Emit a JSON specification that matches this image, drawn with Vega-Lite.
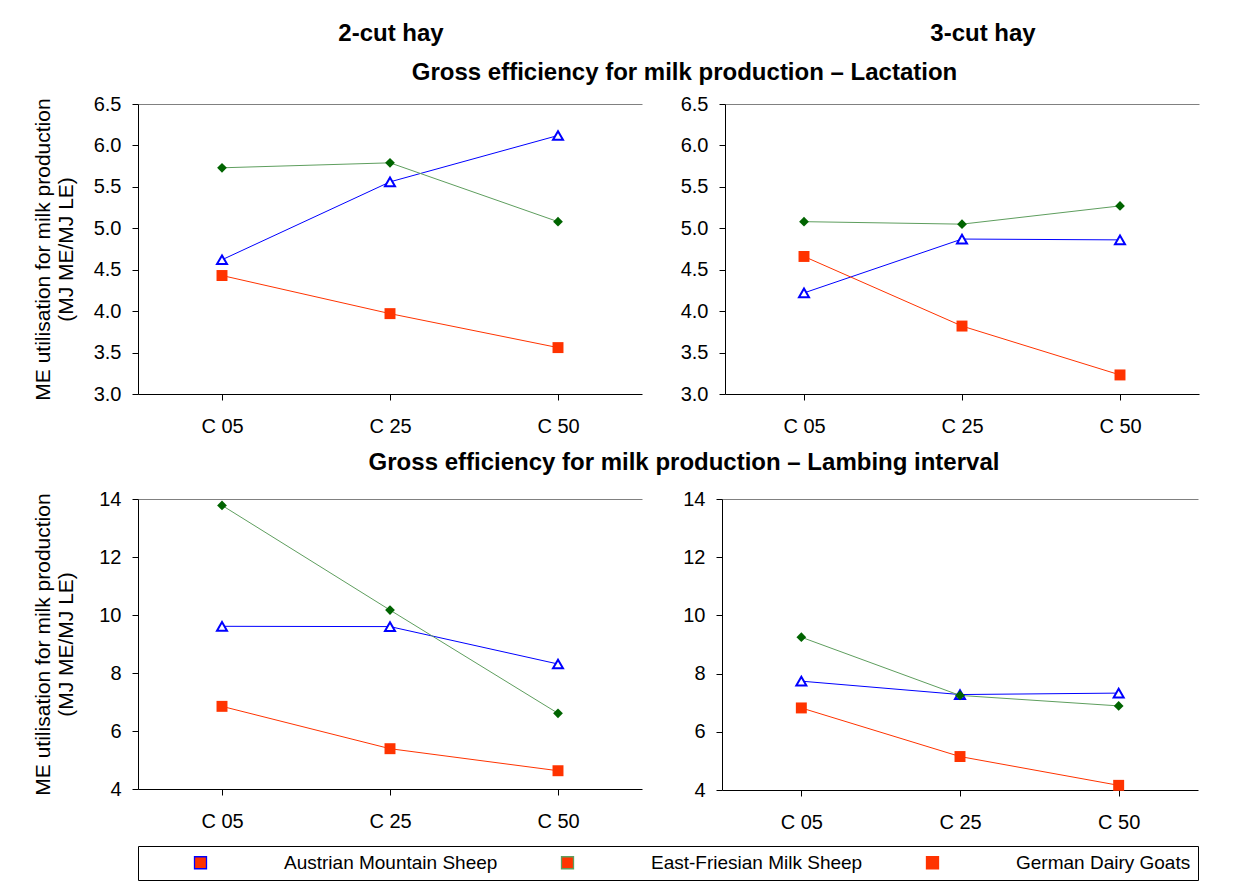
{
  "$schema": "https://vega.github.io/schema/vega-lite/v6.json",
  "padding": {"left": 31, "top": 22, "right": 6, "bottom": 4},
  "background": "white",
  "config": {
    "font": "Liberation Sans",
    "view": {"stroke": null},
    "axis": {"grid": false, "domainColor": "black", "tickColor": "black", "labelColor": "black", "labelFont": "Liberation Sans", "labelFontSize": 20, "tickSize": 6, "domainWidth": 1, "tickWidth": 1, "titleFont": "Liberation Sans", "titleFontWeight": "normal", "titleColor": "black"},
    "axisY": {"minExtent": 42, "maxExtent": 42},
    "title": {"font": "Liberation Sans", "fontSize": 24, "fontWeight": "bold", "color": "black"}
  },
  "datasets": {
    "d": [
      {"hay": "2-cut hay", "period": "Lactation", "series": "Austrian Mountain Sheep", "cut": "C 05", "value": 4.62},
      {"hay": "2-cut hay", "period": "Lactation", "series": "Austrian Mountain Sheep", "cut": "C 25", "value": 5.56},
      {"hay": "2-cut hay", "period": "Lactation", "series": "Austrian Mountain Sheep", "cut": "C 50", "value": 6.12},
      {"hay": "2-cut hay", "period": "Lactation", "series": "East-Friesian Milk Sheep", "cut": "C 05", "value": 5.73},
      {"hay": "2-cut hay", "period": "Lactation", "series": "East-Friesian Milk Sheep", "cut": "C 25", "value": 5.79},
      {"hay": "2-cut hay", "period": "Lactation", "series": "East-Friesian Milk Sheep", "cut": "C 50", "value": 5.08},
      {"hay": "2-cut hay", "period": "Lactation", "series": "German Dairy Goats", "cut": "C 05", "value": 4.43},
      {"hay": "2-cut hay", "period": "Lactation", "series": "German Dairy Goats", "cut": "C 25", "value": 3.97},
      {"hay": "2-cut hay", "period": "Lactation", "series": "German Dairy Goats", "cut": "C 50", "value": 3.56},
      {"hay": "3-cut hay", "period": "Lactation", "series": "Austrian Mountain Sheep", "cut": "C 05", "value": 4.22},
      {"hay": "3-cut hay", "period": "Lactation", "series": "Austrian Mountain Sheep", "cut": "C 25", "value": 4.87},
      {"hay": "3-cut hay", "period": "Lactation", "series": "Austrian Mountain Sheep", "cut": "C 50", "value": 4.86},
      {"hay": "3-cut hay", "period": "Lactation", "series": "East-Friesian Milk Sheep", "cut": "C 05", "value": 5.08},
      {"hay": "3-cut hay", "period": "Lactation", "series": "East-Friesian Milk Sheep", "cut": "C 25", "value": 5.05},
      {"hay": "3-cut hay", "period": "Lactation", "series": "East-Friesian Milk Sheep", "cut": "C 50", "value": 5.27},
      {"hay": "3-cut hay", "period": "Lactation", "series": "German Dairy Goats", "cut": "C 05", "value": 4.66},
      {"hay": "3-cut hay", "period": "Lactation", "series": "German Dairy Goats", "cut": "C 25", "value": 3.82},
      {"hay": "3-cut hay", "period": "Lactation", "series": "German Dairy Goats", "cut": "C 50", "value": 3.23},
      {"hay": "2-cut hay", "period": "Lambing interval", "series": "Austrian Mountain Sheep", "cut": "C 05", "value": 9.61},
      {"hay": "2-cut hay", "period": "Lambing interval", "series": "Austrian Mountain Sheep", "cut": "C 25", "value": 9.6},
      {"hay": "2-cut hay", "period": "Lambing interval", "series": "Austrian Mountain Sheep", "cut": "C 50", "value": 8.31},
      {"hay": "2-cut hay", "period": "Lambing interval", "series": "East-Friesian Milk Sheep", "cut": "C 05", "value": 13.78},
      {"hay": "2-cut hay", "period": "Lambing interval", "series": "East-Friesian Milk Sheep", "cut": "C 25", "value": 10.17},
      {"hay": "2-cut hay", "period": "Lambing interval", "series": "East-Friesian Milk Sheep", "cut": "C 50", "value": 6.61},
      {"hay": "2-cut hay", "period": "Lambing interval", "series": "German Dairy Goats", "cut": "C 05", "value": 6.85},
      {"hay": "2-cut hay", "period": "Lambing interval", "series": "German Dairy Goats", "cut": "C 25", "value": 5.39},
      {"hay": "2-cut hay", "period": "Lambing interval", "series": "German Dairy Goats", "cut": "C 50", "value": 4.63},
      {"hay": "3-cut hay", "period": "Lambing interval", "series": "Austrian Mountain Sheep", "cut": "C 05", "value": 7.74},
      {"hay": "3-cut hay", "period": "Lambing interval", "series": "Austrian Mountain Sheep", "cut": "C 25", "value": 7.28},
      {"hay": "3-cut hay", "period": "Lambing interval", "series": "Austrian Mountain Sheep", "cut": "C 50", "value": 7.33},
      {"hay": "3-cut hay", "period": "Lambing interval", "series": "East-Friesian Milk Sheep", "cut": "C 05", "value": 9.25},
      {"hay": "3-cut hay", "period": "Lambing interval", "series": "East-Friesian Milk Sheep", "cut": "C 25", "value": 7.25},
      {"hay": "3-cut hay", "period": "Lambing interval", "series": "East-Friesian Milk Sheep", "cut": "C 50", "value": 6.89},
      {"hay": "3-cut hay", "period": "Lambing interval", "series": "German Dairy Goats", "cut": "C 05", "value": 6.82},
      {"hay": "3-cut hay", "period": "Lambing interval", "series": "German Dairy Goats", "cut": "C 25", "value": 5.15},
      {"hay": "3-cut hay", "period": "Lambing interval", "series": "German Dairy Goats", "cut": "C 50", "value": 4.16}
    ]
  },
  "data": {"name": "d"},
  "spacing": 15,
  "vconcat": [
    {
      "width": 845, "height": 24,
      "transform": [{"aggregate": [], "groupby": ["hay"]}],
      "mark": {"type": "text", "fontSize": 24, "fontWeight": "bold", "font": "Liberation Sans", "color": "black", "baseline": "middle"},
      "encoding": {
        "x": {"field": "hay", "type": "nominal", "scale": {"type": "point", "domain": ["2-cut hay", "3-cut hay"], "padding": 0.2137, "align": 1}, "axis": null},
        "text": {"field": "hay", "type": "nominal"}
      }
    },
    {
      "title": {"text": "Gross efficiency for milk production – Lactation", "anchor": "middle", "dx": 69, "offset": 9},
      "spacing": 38,
      "hconcat": [
        {
          "width": 504, "height": 290,
          "transform": [{"filter": "datum.hay === '2-cut hay' && datum.period === 'Lactation'"}],
          "layer": [
            {"mark": {"type": "line", "strokeWidth": 1},
             "encoding": {
               "x": {"field": "cut", "type": "ordinal", "scale": {"type": "point", "padding": 0.5}, "axis": {"orient": "bottom", "title": null, "labelAngle": 0, "labelPadding": 16}},
               "y": {"field": "value", "type": "quantitative", "scale": {"domain": [3, 6.5], "nice": false, "zero": false}, "axis": {"values": [3, 3.5, 4, 4.5, 5, 5.5, 6, 6.5], "format": ".1f", "labelPadding": 11, "title": ["ME utilisation for milk production", "(MJ ME/MJ LE)"], "titleFontSize": 21, "titleLineHeight": 23, "titlePadding": 20}},
               "detail": {"field": "series", "type": "nominal"},
               "stroke": {"condition": [{"test": "datum.series === 'Austrian Mountain Sheep'", "value": "#0000FF"}, {"test": "datum.series === 'East-Friesian Milk Sheep'", "value": "#5E9E5E"}], "value": "#FF3300"}
             }},
            {"mark": {"type": "point", "opacity": 1},
             "encoding": {
               "x": {"field": "cut", "type": "ordinal", "axis": {"orient": "top", "title": null, "labels": false, "ticks": false, "domainColor": "#808080"}},
               "y": {"field": "value", "type": "quantitative", "axis": {"values": [3, 3.5, 4, 4.5, 5, 5.5, 6, 6.5], "format": ".1f", "labelPadding": 11, "title": ["ME utilisation for milk production", "(MJ ME/MJ LE)"], "titleFontSize": 21, "titleLineHeight": 23, "titlePadding": 20}},
               "color": {"field": "series", "type": "nominal", "scale": {"domain": ["Austrian Mountain Sheep", "East-Friesian Milk Sheep", "German Dairy Goats"], "range": ["#0000FF", "#5E9E5E", "#FF3300"]},
                 "legend": {"title": " ", "titleOrient": "left", "titlePadding": 46, "titleFontSize": 19, "orient": "none", "legendX": 0, "legendY": 824, "direction": "horizontal", "strokeColor": "black", "padding": 7, "symbolSize": 144, "symbolStrokeWidth": 1.3, "labelOffset": 74, "labelFontSize": 19, "labelFont": "Liberation Sans", "labelColor": "black", "columnPadding": 60, "labelLimit": 400,
                   "labelExpr": "datum.label === 'German Dairy Goats' ? datum.label + '\u00a0\u00a0\u00a0\u00a0\u00a0\u00a0' : datum.label",
                   "encode": {"symbols": {
                     "shape": {"value": {"expr": "datum.value === 'Austrian Mountain Sheep' ? 'M-1.5,0H10.5M4.5,-0.9L5.35,0.7L3.65,0.7Z' : datum.value === 'East-Friesian Milk Sheep' ? 'M-1.5,0H10.5M4.5,-0.95L5.25,0L4.5,0.95L3.75,0Z' : 'M-1.5,0H10.5M3.6,-0.9H5.4V0.9H3.6Z'"}},
                     "fill": {"value": {"expr": "datum.value === 'Austrian Mountain Sheep' ? '#FFFFFF' : datum.value === 'East-Friesian Milk Sheep' ? '#006400' : '#FF3300'"}},
                     "size": {"value": 144}, "strokeWidth": {"value": 1.3},
                     "opacity": {"value": 1}, "fillOpacity": {"value": 1}, "strokeOpacity": {"value": 1}}}}},
               "shape": {"condition": [{"test": "datum.series === 'Austrian Mountain Sheep'", "value": "triangle-up"}, {"test": "datum.series === 'East-Friesian Milk Sheep'", "value": "diamond"}], "value": "square"},
               "fill": {"condition": [{"test": "datum.series === 'Austrian Mountain Sheep'", "value": "#FFFFFF"}, {"test": "datum.series === 'East-Friesian Milk Sheep'", "value": "#006400"}], "value": "#FF3300"},
               "strokeWidth": {"condition": {"test": "datum.series === 'Austrian Mountain Sheep'", "value": 2}, "value": 0},
               "size": {"condition": [{"test": "datum.series === 'Austrian Mountain Sheep'", "value": 100}, {"test": "datum.series === 'East-Friesian Milk Sheep'", "value": 95}], "value": 120}
             }}
          ]
        },
        {
          "width": 474, "height": 290,
          "transform": [{"filter": "datum.hay === '3-cut hay' && datum.period === 'Lactation'"}],
          "layer": [
            {"mark": {"type": "line", "strokeWidth": 1},
             "encoding": {
               "x": {"field": "cut", "type": "ordinal", "scale": {"type": "point", "padding": 0.5}, "axis": {"orient": "bottom", "title": null, "labelAngle": 0, "labelPadding": 16}},
               "y": {"field": "value", "type": "quantitative", "scale": {"domain": [3, 6.5], "nice": false, "zero": false}, "axis": {"values": [3, 3.5, 4, 4.5, 5, 5.5, 6, 6.5], "format": ".1f", "labelPadding": 11, "title": null}},
               "detail": {"field": "series", "type": "nominal"},
               "stroke": {"condition": [{"test": "datum.series === 'Austrian Mountain Sheep'", "value": "#0000FF"}, {"test": "datum.series === 'East-Friesian Milk Sheep'", "value": "#5E9E5E"}], "value": "#FF3300"}
             }},
            {"mark": {"type": "point", "opacity": 1},
             "encoding": {
               "x": {"field": "cut", "type": "ordinal", "axis": {"orient": "top", "title": null, "labels": false, "ticks": false, "domainColor": "#808080"}},
               "y": {"field": "value", "type": "quantitative", "axis": {"values": [3, 3.5, 4, 4.5, 5, 5.5, 6, 6.5], "format": ".1f", "labelPadding": 11, "title": null}},
               "color": {"field": "series", "type": "nominal", "scale": {"domain": ["Austrian Mountain Sheep", "East-Friesian Milk Sheep", "German Dairy Goats"], "range": ["#0000FF", "#5E9E5E", "#FF3300"]}},
               "shape": {"condition": [{"test": "datum.series === 'Austrian Mountain Sheep'", "value": "triangle-up"}, {"test": "datum.series === 'East-Friesian Milk Sheep'", "value": "diamond"}], "value": "square"},
               "fill": {"condition": [{"test": "datum.series === 'Austrian Mountain Sheep'", "value": "#FFFFFF"}, {"test": "datum.series === 'East-Friesian Milk Sheep'", "value": "#006400"}], "value": "#FF3300"},
               "strokeWidth": {"condition": {"test": "datum.series === 'Austrian Mountain Sheep'", "value": 2}, "value": 0},
               "size": {"condition": [{"test": "datum.series === 'Austrian Mountain Sheep'", "value": 100}, {"test": "datum.series === 'East-Friesian Milk Sheep'", "value": 95}], "value": 120}
             }}
          ]
        }
      ]
    },
    {
      "title": {"text": "Gross efficiency for milk production – Lambing interval", "anchor": "middle", "dx": 69, "offset": 14},
      "spacing": 38,
      "hconcat": [
        {
          "width": 504, "height": 290,
          "transform": [{"filter": "datum.hay === '2-cut hay' && datum.period === 'Lambing interval'"}],
          "layer": [
            {"mark": {"type": "line", "strokeWidth": 1},
             "encoding": {
               "x": {"field": "cut", "type": "ordinal", "scale": {"type": "point", "padding": 0.5}, "axis": {"orient": "bottom", "title": null, "labelAngle": 0, "labelPadding": 16}},
               "y": {"field": "value", "type": "quantitative", "scale": {"domain": [4, 14], "nice": false, "zero": false}, "axis": {"values": [4, 6, 8, 10, 12, 14], "format": "d", "labelPadding": 11, "title": ["ME utilisation for milk production", "(MJ ME/MJ LE)"], "titleFontSize": 21, "titleLineHeight": 23, "titlePadding": 20}},
               "detail": {"field": "series", "type": "nominal"},
               "stroke": {"condition": [{"test": "datum.series === 'Austrian Mountain Sheep'", "value": "#0000FF"}, {"test": "datum.series === 'East-Friesian Milk Sheep'", "value": "#5E9E5E"}], "value": "#FF3300"}
             }},
            {"mark": {"type": "point", "opacity": 1},
             "encoding": {
               "x": {"field": "cut", "type": "ordinal", "axis": {"orient": "top", "title": null, "labels": false, "ticks": false, "domainColor": "#808080"}},
               "y": {"field": "value", "type": "quantitative", "axis": {"values": [4, 6, 8, 10, 12, 14], "format": "d", "labelPadding": 11, "title": ["ME utilisation for milk production", "(MJ ME/MJ LE)"], "titleFontSize": 21, "titleLineHeight": 23, "titlePadding": 20}},
               "color": {"field": "series", "type": "nominal", "scale": {"domain": ["Austrian Mountain Sheep", "East-Friesian Milk Sheep", "German Dairy Goats"], "range": ["#0000FF", "#5E9E5E", "#FF3300"]}},
               "shape": {"condition": [{"test": "datum.series === 'Austrian Mountain Sheep'", "value": "triangle-up"}, {"test": "datum.series === 'East-Friesian Milk Sheep'", "value": "diamond"}], "value": "square"},
               "fill": {"condition": [{"test": "datum.series === 'Austrian Mountain Sheep'", "value": "#FFFFFF"}, {"test": "datum.series === 'East-Friesian Milk Sheep'", "value": "#006400"}], "value": "#FF3300"},
               "strokeWidth": {"condition": {"test": "datum.series === 'Austrian Mountain Sheep'", "value": 2}, "value": 0},
               "size": {"condition": [{"test": "datum.series === 'Austrian Mountain Sheep'", "value": 100}, {"test": "datum.series === 'East-Friesian Milk Sheep'", "value": 95}], "value": 120}
             }}
          ]
        },
        {
          "width": 476, "height": 291,
          "transform": [{"filter": "datum.hay === '3-cut hay' && datum.period === 'Lambing interval'"}],
          "layer": [
            {"mark": {"type": "line", "strokeWidth": 1},
             "encoding": {
               "x": {"field": "cut", "type": "ordinal", "scale": {"type": "point", "padding": 0.5}, "axis": {"orient": "bottom", "title": null, "labelAngle": 0, "labelPadding": 16}},
               "y": {"field": "value", "type": "quantitative", "scale": {"domain": [4, 14], "nice": false, "zero": false}, "axis": {"values": [4, 6, 8, 10, 12, 14], "format": "d", "labelPadding": 11, "title": null}},
               "detail": {"field": "series", "type": "nominal"},
               "stroke": {"condition": [{"test": "datum.series === 'Austrian Mountain Sheep'", "value": "#0000FF"}, {"test": "datum.series === 'East-Friesian Milk Sheep'", "value": "#5E9E5E"}], "value": "#FF3300"}
             }},
            {"mark": {"type": "point", "opacity": 1},
             "encoding": {
               "x": {"field": "cut", "type": "ordinal", "axis": {"orient": "top", "title": null, "labels": false, "ticks": false, "domainColor": "#808080"}},
               "y": {"field": "value", "type": "quantitative", "axis": {"values": [4, 6, 8, 10, 12, 14], "format": "d", "labelPadding": 11, "title": null}},
               "color": {"field": "series", "type": "nominal", "scale": {"domain": ["Austrian Mountain Sheep", "East-Friesian Milk Sheep", "German Dairy Goats"], "range": ["#0000FF", "#5E9E5E", "#FF3300"]}},
               "shape": {"condition": [{"test": "datum.series === 'Austrian Mountain Sheep'", "value": "triangle-up"}, {"test": "datum.series === 'East-Friesian Milk Sheep'", "value": "diamond"}], "value": "square"},
               "fill": {"condition": [{"test": "datum.series === 'Austrian Mountain Sheep'", "value": "#FFFFFF"}, {"test": "datum.series === 'East-Friesian Milk Sheep'", "value": "#006400"}], "value": "#FF3300"},
               "strokeWidth": {"condition": {"test": "datum.series === 'Austrian Mountain Sheep'", "value": 2}, "value": 0},
               "size": {"condition": [{"test": "datum.series === 'Austrian Mountain Sheep'", "value": 100}, {"test": "datum.series === 'East-Friesian Milk Sheep'", "value": 95}], "value": 120}
             }}
          ]
        }
      ]
    }
  ]
}
